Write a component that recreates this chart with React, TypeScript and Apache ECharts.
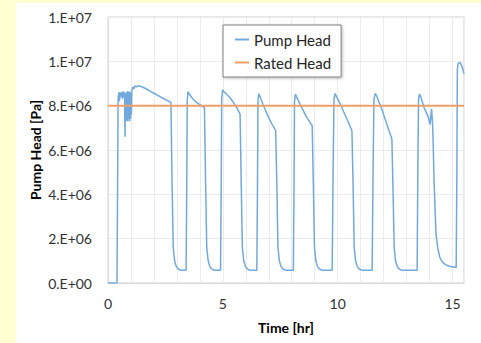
import React, { useEffect, useRef } from "react";
import * as echarts from "echarts";

// Time [hr], Pump Head [x1e6 Pa]
const startupCycle: [number, number][] = [
  [0, 0], [0.39, 0], [0.41, 3.0], [0.44, 8.3], [0.47, 8.6], [0.5, 8.2], [0.53, 8.6], [0.57, 8.4],
  [0.6, 8.6], [0.63, 8.3], [0.66, 8.65], [0.7, 8.4], [0.72, 8.6], [0.74, 6.6], [0.76, 8.5],
  [0.78, 7.4], [0.8, 8.6], [0.82, 7.3], [0.84, 8.65], [0.86, 7.3], [0.88, 8.6], [0.9, 7.4],
  [0.92, 8.65], [0.94, 7.3], [0.96, 8.6], [0.98, 7.4], [1.0, 8.6], [1.02, 7.6], [1.04, 8.7],
  [1.08, 8.85], [1.12, 8.75], [1.18, 8.9], [1.24, 8.85], [1.32, 8.9], [1.4, 8.88], [1.54, 8.82],
  [1.7, 8.74], [1.83, 8.66], [2.0, 8.56], [2.19, 8.45], [2.45, 8.3], [2.74, 8.15],
  [2.79, 4.5], [2.84, 1.6], [2.9, 1.0], [2.97, 0.75], [3.06, 0.63], [3.16, 0.58], [3.4, 0.58],
];
const cycle2: [number, number][] = [
  [3.43, 4.5], [3.45, 8.2], [3.48, 8.63], [3.52, 8.55], [3.7, 8.3], [3.86, 8.14], [4.08, 8.0],
  [4.2, 7.9], [4.25, 4.5], [4.3, 1.6], [4.36, 1.0], [4.43, 0.75], [4.52, 0.63], [4.62, 0.58], [4.9, 0.58],
];
const cycle3: [number, number][] = [
  [4.93, 4.5], [4.95, 8.3], [4.99, 8.72], [5.03, 8.65], [5.31, 8.37], [5.6, 7.92], [5.75, 7.62],
  [5.8, 4.5], [5.85, 1.6], [5.91, 1.0], [5.98, 0.75], [6.07, 0.63], [6.17, 0.58], [6.48, 0.58],
];
const cycle4: [number, number][] = [
  [6.51, 4.5], [6.53, 8.2], [6.56, 8.55], [6.6, 8.45], [6.75, 8.05], [7.0, 7.45], [7.15, 7.15],
  [7.3, 6.87], [7.35, 4.5], [7.4, 1.6], [7.46, 1.0], [7.53, 0.75], [7.62, 0.63], [7.72, 0.58], [8.07, 0.58],
];
const cycle5: [number, number][] = [
  [8.1, 4.5], [8.12, 8.2], [8.16, 8.52], [8.2, 8.42], [8.36, 8.07], [8.65, 7.47], [8.89, 7.1],
  [8.94, 4.5], [8.99, 1.6], [9.05, 1.0], [9.12, 0.75], [9.21, 0.63], [9.31, 0.58], [9.76, 0.58],
];
const cycle6: [number, number][] = [
  [9.8, 5.0], [9.84, 8.3], [9.89, 8.55], [9.93, 8.45], [10.18, 7.92], [10.47, 7.24], [10.62, 6.87],
  [10.67, 4.5], [10.72, 1.6], [10.78, 1.0], [10.85, 0.75], [10.94, 0.63], [11.04, 0.58], [11.5, 0.58],
];
const cycle7: [number, number][] = [
  [11.54, 5.0], [11.58, 8.3], [11.64, 8.55], [11.68, 8.48], [11.92, 7.85], [12.16, 7.1], [12.36, 6.5],
  [12.41, 4.2], [12.46, 1.6], [12.52, 1.0], [12.59, 0.75], [12.68, 0.63], [12.78, 0.58], [13.46, 0.58],
];
const cycle8: [number, number][] = [
  [13.49, 5.0], [13.52, 8.3], [13.56, 8.52], [13.6, 8.45], [13.76, 7.92], [13.95, 7.47], [14.02, 7.15],
  [14.09, 7.85], [14.14, 7.0], [14.2, 4.5], [14.28, 2.2], [14.37, 1.5], [14.45, 1.15], [14.53, 0.98],
  [14.7, 0.82], [14.9, 0.74], [15.16, 0.7],
];
const cycle9: [number, number][] = [
  [15.19, 5.0], [15.21, 9.6], [15.24, 9.9], [15.33, 9.95], [15.42, 9.75], [15.5, 9.45],
];

const ratedHeadPa = 8e6;
const timeRange = [0, 15.5];
const headRange = [0, 12e6];

const seriesNames = ["Pump Head", "Rated Head"];
const xAxisTitle = "Time [hr]";
const yAxisTitle = "Pump Head [Pa]";

function sciLabel(v: number): string {
  if (v === 0) return "0.E+00";
  const e = Math.floor(Math.log10(Math.abs(v)) + 1e-9);
  const m = Math.round(v / Math.pow(10, e));
  const es = String(Math.abs(e)).padStart(2, "0");
  return `${m}.E${e >= 0 ? "+" : "-"}${es}`;
}

const FONT = "Lato, 'Liberation Sans', sans-serif";

export default function App() {
  const ref = useRef<HTMLDivElement>(null);
  useEffect(() => {
    if (!ref.current) return;
    const chart = echarts.init(ref.current, undefined, { renderer: "svg" });
    const pump = [
      ...startupCycle, ...cycle2, ...cycle3, ...cycle4, ...cycle5,
      ...cycle6, ...cycle7, ...cycle8, ...cycle9,
    ].map(([t, v]) => [t, v * 1e6]);
    const rated = [
      [timeRange[0], ratedHeadPa],
      [timeRange[1], ratedHeadPa],
    ];
    chart.setOption({
      animation: false,
      backgroundColor: "#FFFFD2",
      textStyle: { fontFamily: FONT },
      graphic: [
        { type: "rect", z: -10, shape: { x: 16, y: 3, width: 465, height: 340 }, style: { fill: "#FFFFFF" } },
        {
          type: "text", x: 35, y: 150, rotation: Math.PI / 2,
          style: { text: yAxisTitle, fontFamily: FONT, fontSize: 14, fontWeight: "bold", fill: "#000000", align: "center", verticalAlign: "middle" },
        },
        {
          type: "text", x: 286, y: 327,
          style: { text: xAxisTitle, fontFamily: FONT, fontSize: 14, fontWeight: "bold", fill: "#000000", align: "center", verticalAlign: "middle" },
        },
      ],
      grid: {
        left: 108, right: 17, top: 17, bottom: 60,
        show: true, borderColor: "#D0D0D0", borderWidth: 1, backgroundColor: "transparent",
      },
      legend: {
        data: seriesNames,
        orient: "vertical",
        left: 223, top: 25,
        padding: [5.5, 10, 5.5, 12],
        itemGap: 5,
        itemWidth: 14, itemHeight: 2,
        icon: "rect",
        backgroundColor: "#FFFFFF",
        borderColor: "#7F7F7F", borderWidth: 1,
        shadowColor: "rgba(0,0,0,0.25)", shadowBlur: 3, shadowOffsetX: 1, shadowOffsetY: 1,
        textStyle: { fontFamily: FONT, fontSize: 15, color: "#262626", lineHeight: 18 },
      },
      xAxis: {
        type: "value", min: timeRange[0], max: timeRange[1], interval: 1,
        axisLine: { show: true, lineStyle: { color: "#D9D9D9" } },
        axisTick: { show: false },
        axisLabel: {
          fontFamily: FONT, fontSize: 14, color: "#333333", margin: 13,
          formatter: (v: number) => (Math.abs(v % 5) < 1e-9 ? String(v) : ""),
        },
        splitLine: { show: true, lineStyle: { color: "#EBEBEB", width: 1 } },
      },
      yAxis: {
        type: "value", min: headRange[0], max: headRange[1], interval: 2e6,
        axisLine: { show: true, lineStyle: { color: "#E0E0E0" } },
        axisTick: { show: false },
        axisLabel: { fontFamily: FONT, fontSize: 14, color: "#333333", margin: 16, formatter: sciLabel },
        splitLine: { show: true, lineStyle: { color: "#EBEBEB", width: 1 } },
      },
      series: [
        {
          name: seriesNames[0], type: "line", data: pump, showSymbol: false, symbol: "none",
          lineStyle: { color: "#72A9DC", width: 1.5 }, itemStyle: { color: "#72A9DC" },
        },
        {
          name: seriesNames[1], type: "line", data: rated, showSymbol: false, symbol: "none",
          lineStyle: { color: "#EE9F67", width: 2 }, itemStyle: { color: "#EE9F67" },
        },
      ],
    });
    return () => chart.dispose();
  }, []);
  return (
    <div
      ref={ref}
      style={{ position: "absolute", left: 0, top: 0, width: 481, height: 343 }}
    />
  );
}
